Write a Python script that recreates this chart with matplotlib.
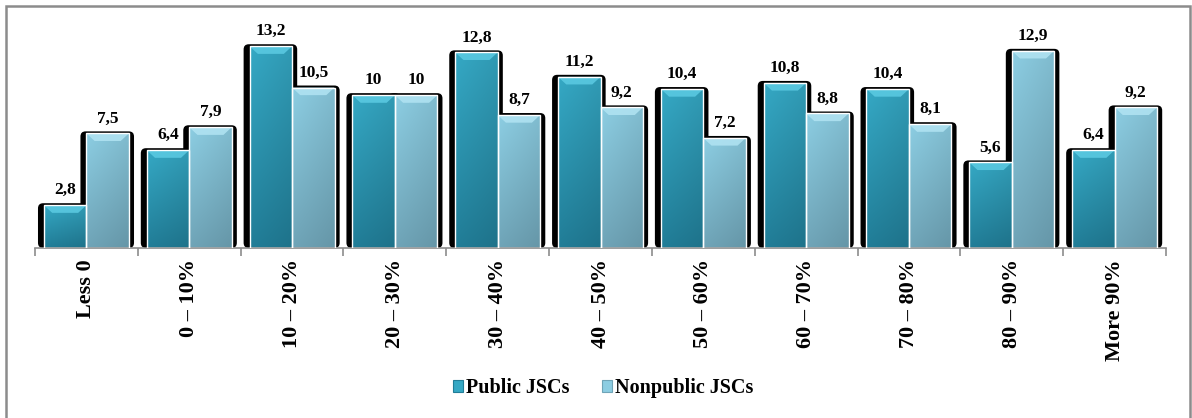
import numpy as np
import matplotlib.pyplot as plt
from matplotlib.patches import Rectangle, FancyBboxPatch, Polygon, Patch
from matplotlib.colors import to_rgb

plt.rcParams['font.family'] = ['Liberation Serif', 'DejaVu Serif']
plt.rcParams['font.weight'] = 'bold'

categories = ['Less 0', '0 – 10%', '10 – 20%', '20 – 30%', '30 – 40%', '40 – 50%',
              '50 – 60%', '60 – 70%', '70 – 80%', '80 – 90%', 'More 90%']
public = [2.8, 6.4, 13.2, 10, 12.8, 11.2, 10.4, 10.8, 10.4, 5.6, 6.4]
nonpublic = [7.5, 7.9, 10.5, 10, 8.7, 9.2, 7.2, 8.8, 8.1, 12.9, 9.2]
series_names = ['Public JSCs', 'Nonpublic JSCs']

# colour sets: (top of gradient, bottom of gradient, bevel highlight)
styles = [('#35a8c4', '#217d97', '#5ccbe3'),
          ('#8ccde2', '#6fa4b7', '#b2e4f3')]

fig = plt.figure(figsize=(11.92, 4.18), dpi=100)
ax = fig.add_axes([35 / 1192, 170 / 418, 1131 / 1192, 214 / 418])
ax.set_xlim(-0.5, len(categories) - 0.5)
ax.set_ylim(0, 14)

width = 0.413
px_aspect = (14 / 214) / (11 / 1131)  # data-y per pixel over data-x per pixel


def fmt(v):
    return f'{v:g}'.replace('.', ',')


def gradient_bar(x0, h, top, bottom, light):
    # black rounded shadow behind the bar
    sh = FancyBboxPatch((x0 - 0.058, 0), width + 0.108, h + 0.13,
                        boxstyle='round,pad=0,rounding_size=0.05',
                        mutation_aspect=px_aspect, fc='black', ec='none', zorder=1)
    ax.add_patch(sh)
    rect = Rectangle((x0, 0), width, h, fc='none', ec='none', zorder=2)
    ax.add_patch(rect)
    c_top, c_bot = np.array(to_rgb(top)), np.array(to_rgb(bottom))
    t = np.linspace(0, 1, 64)[:, None]
    grad = c_top * (1 - t[..., None]) + c_bot * t[..., None]
    grad = np.repeat(grad, 8, axis=1)
    # slightly darker towards the right edge
    shade = np.linspace(1.0, 0.92, 8)[None, :, None]
    img = ax.imshow(grad * shade, extent=(x0, x0 + width, 0, h), aspect='auto',
                    origin='upper', zorder=2, interpolation='bilinear')
    img.set_clip_path(rect)
    dx, dy = 0.08, 0.5
    bevel = Polygon([(x0, h), (x0 + width, h), (x0 + width - dx, h - dy), (x0 + dx, h - dy)],
                    closed=True, fc=light, ec='none', alpha=0.85, zorder=3)
    ax.add_patch(bevel)
    ax.add_patch(Rectangle((x0, 0), width, h, fc='none', ec='white', lw=1.0, zorder=4))


x = np.arange(len(categories))
for i in x:
    for k, vals in enumerate([public, nonpublic]):
        x0 = i - width if k == 0 else i
        gradient_bar(x0, vals[i], *styles[k])

for i in x:
    for k, vals in enumerate([public, nonpublic]):
        xc = i - width / 2 if k == 0 else i + width / 2
        ax.annotate(fmt(vals[i]), (xc, vals[i]), xytext=(0, 5), textcoords='offset points',
                    ha='center', va='bottom', fontsize=12.5, fontweight='bold', zorder=5)

ax.set_ylim(0, 14)
ax.set_xticks(x)
ax.set_xticklabels(categories, rotation=90, fontsize=16, fontweight='bold', va='top')
ax.tick_params(axis='x', which='major', length=0, pad=8)
ax.set_xticks(np.arange(-0.5, len(categories)), minor=True)
ax.tick_params(axis='x', which='minor', length=6, color='#8c8c8c', width=1.2)
ax.set_yticks([])
for side in ['top', 'right', 'left']:
    ax.spines[side].set_visible(False)
ax.spines['bottom'].set_color('#8c8c8c')
ax.spines['bottom'].set_linewidth(1.2)

handles = [Patch(fc=styles[k][0], ec=styles[k][1], lw=0.8) for k in range(2)]
fig.legend(handles, series_names, loc='center', bbox_to_anchor=(603 / 1192, 1 - 388 / 418),
           ncol=2, frameon=False, prop={'family': 'Liberation Serif', 'weight': 'bold', 'size': 14.5},
           handlelength=0.5, handleheight=0.5, handletextpad=0.15, columnspacing=1.6)

fig.add_artist(Rectangle((6 / 1192, -0.1), 1184 / 1192, 1 - 6 / 418 + 0.1, transform=fig.transFigure,
                         fill=False, ec='#8c8c8c', lw=1.8))

fig.savefig('out.png', dpi=100)
